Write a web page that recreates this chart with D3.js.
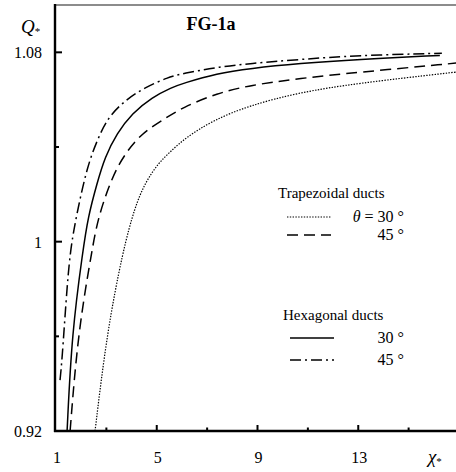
<!DOCTYPE html>
<html>
<head>
<meta charset="utf-8">
<script src="https://cdn.jsdelivr.net/npm/d3@7"></script>
<style>
  body { margin: 0; background: #fff; }
</style>
</head>
<body>
<div id="chart"></div>
<script>
// curves, [chi, Q]
const trap30 = [[2.55,0.92],[3.02,0.9614],[3.66,0.9964],[4.13,1.0146],[4.53,1.0247],[5.05,1.0331],[5.60,1.0386],[6.12,1.0437],[7.23,1.0513],[8.70,1.0576],[10.68,1.0631],[12.94,1.0669],[16.75,1.0715],[17,1.0718]];
const trap45 = [[1.56,0.92],[1.87,0.9614],[2.43,0.9964],[2.67,1.0103],[3.22,1.0272],[3.74,1.0373],[4.41,1.0458],[5.21,1.0513],[6.04,1.0568],[7.39,1.0627],[8.70,1.0661],[10.68,1.0690],[12.94,1.0715],[16.75,1.0753],[17,1.0756]];
const hex30 = [[1.44,0.92],[1.63,0.9614],[2.07,0.9964],[2.27,1.0103],[2.63,1.0247],[2.94,1.0357],[3.42,1.0458],[4.02,1.0542],[4.81,1.0610],[5.60,1.0652],[6.04,1.0669],[7.39,1.0711],[8.70,1.0732],[10.68,1.0753],[12.94,1.0770],[16.24,1.0787]];
const hex45 = [[1.16,0.9415],[1.24,0.950],[1.40,0.9753],[1.56,0.9964],[1.83,1.0120],[2.23,1.0314],[2.63,1.0428],[3.06,1.0525],[3.74,1.0597],[4.53,1.0652],[5.44,1.0694],[6.04,1.0711],[7.39,1.0737],[8.70,1.0753],[10.68,1.0770],[12.94,1.0787],[16.32,1.0796]];

const xTicks = [1, 5, 9, 13];
const xMinor = [3, 7, 11, 15];
const yTicks = [0.92, 1, 1.08];
const yMinor = [0.96, 1.04];

let width = 456, height = 472;
let serif = "'Liberation Serif', 'Times New Roman', Times, 'DejaVu Serif', serif";

let x = d3.scaleLinear().domain([1, 17]).range([56, 459]);
let y = d3.scaleLinear().domain([0.92, 1.1]).range([431, 5]);

let svg = d3.select("#chart").append("svg")
    .attr("width", width)
    .attr("height", height)
    .attr("font-family", serif)
    .style("font-family", serif);

let line = d3.line()
    .x(function(d) { return x(d[0]); })
    .y(function(d) { return y(d[1]); })
    .curve(d3.curveBasis);

// clip to plot area
svg.append("clipPath").attr("id", "plot")
  .append("rect").attr("x", 55).attr("y", 5).attr("width", 404).attr("height", 426);

let series = [
    {data: trap30, dash: "1.4,1.4", w: 1.2},
    {data: trap45, dash: "11,6", w: 1.5},
    {data: hex30, dash: null, w: 1.5},
    {data: hex45, dash: "11,4,2,4", w: 1.5}
];

svg.append("g").attr("clip-path", "url(#plot)")
  .selectAll("path")
  .data(series)
  .enter().append("path")
    .attr("d", function(d) { return line(d.data); })
    .attr("fill", "none")
    .attr("stroke", "#000")
    .attr("stroke-width", function(d) { return d.w; })
    .attr("stroke-dasharray", function(d) { return d.dash; });

// frame
svg.append("line")
    .attr("x1", 55).attr("x2", 459).attr("y1", 5).attr("y2", 5)
    .attr("stroke", "#666").attr("stroke-width", 1.5);
svg.append("line")
    .attr("x1", 55).attr("x2", 55).attr("y1", 4).attr("y2", 432)
    .attr("stroke", "#000").attr("stroke-width", 2.4);
svg.append("line")
    .attr("x1", 54).attr("x2", 459).attr("y1", 431).attr("y2", 431)
    .attr("stroke", "#000").attr("stroke-width", 2.4);

// ticks (inward)
svg.selectAll(".xt").data(xTicks.slice(1)).enter().append("line")
    .attr("x1", function(d) { return x(d); }).attr("x2", function(d) { return x(d); })
    .attr("y1", 431).attr("y2", 425)
    .attr("stroke", "#000").attr("stroke-width", 2);
svg.selectAll(".xm").data(xMinor).enter().append("line")
    .attr("x1", function(d) { return x(d); }).attr("x2", function(d) { return x(d); })
    .attr("y1", 431).attr("y2", 427.5)
    .attr("stroke", "#000").attr("stroke-width", 2);
svg.selectAll(".yt").data(yTicks.slice(1)).enter().append("line")
    .attr("x1", 55).attr("x2", 62)
    .attr("y1", function(d) { return y(d); }).attr("y2", function(d) { return y(d); })
    .attr("stroke", "#000").attr("stroke-width", 2);
svg.selectAll(".ym").data(yMinor).enter().append("line")
    .attr("x1", 55).attr("x2", 59)
    .attr("y1", function(d) { return y(d); }).attr("y2", function(d) { return y(d); })
    .attr("stroke", "#000").attr("stroke-width", 2);

// tick labels
svg.selectAll(".xl").data(xTicks).enter().append("text")
    .attr("x", function(d) { return x(d) + 1; })
    .attr("y", 463)
    .attr("text-anchor", "middle")
    .attr("font-size", 16)
    .text(function(d) { return d; });
svg.selectAll(".yl").data(yTicks).enter().append("text")
    .attr("x", 42)
    .attr("y", function(d) { return y(d) + 6; })
    .attr("text-anchor", "end")
    .attr("font-size", 16)
    .text(function(d) { return d === 1 ? "1" : d3.format(".2f")(d); });

// axis titles
let qt = svg.append("text").attr("x", 21).attr("y", 33).attr("font-size", 19);
qt.append("tspan").attr("font-style", "italic").text("Q");
qt.append("tspan").attr("font-size", 11).attr("dy", 2).text("*");

let xt = svg.append("text").attr("x", 428).attr("y", 463).attr("font-size", 19);
xt.append("tspan").attr("font-style", "italic").text("χ");
xt.append("tspan").attr("font-size", 11).attr("dy", 2).text("*");

svg.append("text")
    .attr("x", 211).attr("y", 30)
    .attr("text-anchor", "middle")
    .attr("font-size", 18).attr("font-weight", "bold")
    .text("FG-1a");

// legend
let legend = svg.append("g").attr("font-size", 15);
legend.append("text").attr("x", 278).attr("y", 198).text("Trapezoidal ducts");
legend.append("text").attr("x", 283).attr("y", 320).text("Hexagonal ducts");

let legendRows = [
    {s: series[0], x1: 287, ly: 217, label: "30 °", theta: true},
    {s: series[1], x1: 287, ly: 235, label: "45 °"},
    {s: series[2], x1: 290, ly: 338, label: "30 °"},
    {s: series[3], x1: 290, ly: 360, label: "45 °"}
];

legendRows.forEach(function(r) {
    legend.append("line")
        .attr("x1", r.x1).attr("x2", r.x1 + 44)
        .attr("y1", r.ly).attr("y2", r.ly)
        .attr("stroke", "#000")
        .attr("stroke-width", r.s.w)
        .attr("stroke-dasharray", r.s.dash);
    let t = legend.append("text")
        .attr("x", 404).attr("y", r.ly + 5)
        .attr("text-anchor", "end")
        .attr("font-size", 16);
    if (r.theta) {
        t.append("tspan").attr("font-style", "italic").text("θ");
        t.append("tspan").text(" = " + r.label);
    } else {
        t.text(r.label);
    }
});
</script>
</body>
</html>
